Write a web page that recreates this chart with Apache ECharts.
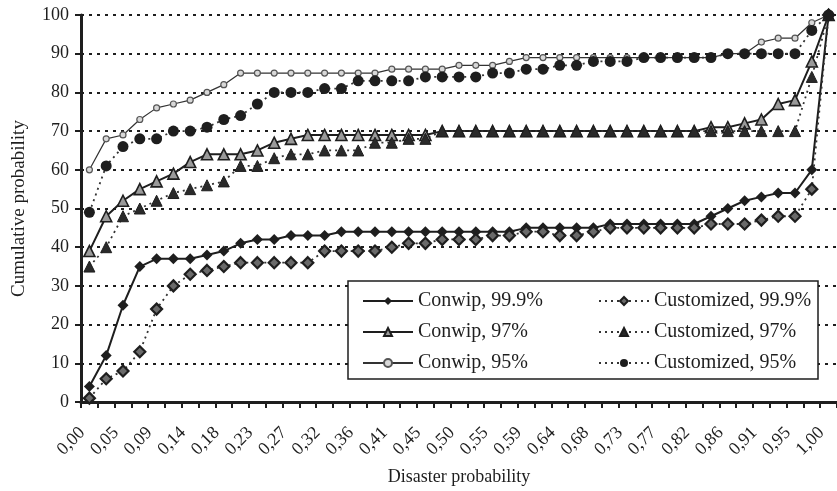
<!DOCTYPE html>
<html>
<head>
<meta charset="utf-8">
<script src="https://cdn.jsdelivr.net/npm/echarts@6/dist/echarts.min.js"></script>
<style>
  html, body { margin: 0; padding: 0; background: #fff; }
  #chart { width: 837px; height: 491px; }
</style>
</head>
<body>
<div id="chart"></div>
<script>
// Disaster probability steps (1/44), shown with a decimal comma
const categories = ['0,00','0,02','0,05','0,07','0,09','0,11','0,14','0,16','0,18','0,20',
  '0,23','0,25','0,27','0,30','0,32','0,34','0,36','0,39','0,41','0,43',
  '0,45','0,48','0,50','0,52','0,55','0,57','0,59','0,61','0,64','0,66',
  '0,68','0,70','0,73','0,75','0,77','0,80','0,82','0,84','0,86','0,89',
  '0,91','0,93','0,95','0,98','1,00'];

const yTicks = [0, 10, 20, 30, 40, 50, 60, 70, 80, 90, 100];

// Cumulative probability (%) per policy and service level
const conwip999 = [4,12,25,35,37,37,37,38,39,41,42,42,43,
  43,43,44,44,44,44,44,44,44,44,44,44,44,
  45,45,45,45,45,46,46,46,46,46,46,
  48,50,52,53,54,54,60,100];
const conwip97 = [39,48,52,55,57,59,62,64,64,64,65,67,68,
  69,69,69,69,69,69,69,69,
  70,70,70,70,70,70,70,70,70,70,70,70,70,70,70,70,
  71,71,72,73,77,78,88,100];
const conwip95 = [60,68,69,73,76,77,78,80,82,85,85,85,85,
  85,85,85,85,85,86,86,86,86,
  87,87,87,88,89,89,
  89,89,89,89,89,89,89,89,89,89,
  90,90,93,94,94,98,100];
const custom999 = [1,6,8,13,24,30,33,34,35,36,36,36,36,
  36,39,39,39,39,40,41,41,42,42,42,43,43,
  44,44,43,43,44,45,45,45,45,45,45,
  46,46,46,47,48,48,55,100];
const custom97 = [35,40,48,50,52,54,55,56,57,61,61,63,64,
  64,65,65,65,67,67,68,68,
  70,70,70,70,70,70,70,70,70,70,70,70,70,70,70,70,70,70,70,70,70,70,
  84,100];
const custom95 = [49,61,66,68,68,70,70,71,73,74,77,80,80,
  80,81,81,83,83,83,83,84,84,84,84,
  85,85,86,86,87,87,88,88,88,
  89,89,89,89,89,90,90,90,90,90,
  96,100];

const SERIF = '"Liberation Serif", "DejaVu Serif", serif';
const INK = '#1e1e1e';

function makeSeries(name, data, symbol, size, item, line) {
  return {
    name: name,
    type: 'line',
    data: data,
    symbol: symbol,
    symbolSize: size,
    showAllSymbol: true,
    itemStyle: item,
    lineStyle: line,
    emphasis: { disabled: true }
  };
}

const solid = { color: INK, width: 2, type: 'solid' };
const thin = { color: '#333', width: 1.2, type: 'solid' };
const dotted = { color: '#333', width: 1.8, type: [2, 4] };

const series = [
  makeSeries('Conwip, 99.9%', conwip999, 'diamond', 11, { color: INK }, solid),
  makeSeries('Conwip, 97%', conwip97, 'triangle', 11, { color: '#9a9a9a', borderColor: INK, borderWidth: 1.6 }, solid),
  makeSeries('Conwip, 95%', conwip95, 'circle', 6, { color: '#d8d8d8', borderColor: '#555', borderWidth: 1.2 }, thin),
  makeSeries('Customized, 99.9%', custom999, 'diamond', 11, { color: '#6a6a6a', borderColor: INK, borderWidth: 2.2 }, dotted),
  makeSeries('Customized, 97%', custom97, 'triangle', 11, { color: '#2a2a2a', borderColor: INK, borderWidth: 1 }, dotted),
  makeSeries('Customized, 95%', custom95, 'circle', 11, { color: INK }, dotted)
];

const legendBase = {
  orient: 'vertical',
  top: 291,
  itemWidth: 50,
  itemHeight: 10,
  itemGap: 11,
  padding: 0,
  z: 20,
  textStyle: { fontFamily: SERIF, fontSize: 20, color: INK },
  inactiveColor: INK
};

const chart = echarts.init(document.getElementById('chart'), null, { renderer: 'canvas' });
chart.setOption({
  animation: false,
  backgroundColor: '#ffffff',
  grid: { left: 81, top: 15, width: 759, height: 388.5, containLabel: false },
  xAxis: {
    type: 'category',
    data: categories,
    boundaryGap: true,
    name: 'Disaster probability',
    nameLocation: 'middle',
    nameGap: 66,
    nameTextStyle: { fontFamily: SERIF, fontSize: 18, color: INK },
    axisLine: { show: true, lineStyle: { color: INK, width: 3 } },
    axisTick: { show: true, interval: 0, length: 6, inside: false, lineStyle: { color: INK, width: 2 } },
    axisLabel: {
      interval: 1, rotate: 45, margin: 21, padding: [0, 10, 0, 0],
      fontFamily: SERIF, fontSize: 18, color: INK
    },
    splitLine: { show: false }
  },
  yAxis: {
    type: 'value',
    min: yTicks[0],
    max: yTicks[yTicks.length - 1],
    interval: yTicks[1] - yTicks[0],
    name: 'Cumulative probability',
    nameLocation: 'middle',
    nameGap: 52,
    nameTextStyle: { fontFamily: SERIF, fontSize: 19, color: INK },
    axisLine: { show: true, lineStyle: { color: INK, width: 3 } },
    axisTick: { show: true, length: 6, lineStyle: { color: INK, width: 2 } },
    axisLabel: { margin: 12, fontFamily: SERIF, fontSize: 18, color: INK },
    splitLine: { show: true, lineStyle: { color: INK, width: 2, type: [3, 5] } }
  },
  graphic: [{
    type: 'rect',
    z: 10,
    shape: { x: 348, y: 281, width: 470, height: 98 },
    style: { fill: '#ffffff', stroke: INK, lineWidth: 1.5 }
  }],
  legend: [
    Object.assign({}, legendBase, { left: 362, data: ['Conwip, 99.9%', 'Conwip, 97%', 'Conwip, 95%'] }),
    Object.assign({}, legendBase, { left: 598, data: ['Customized, 99.9%', 'Customized, 97%', 'Customized, 95%'] })
  ],
  series: series
});
</script>
</body>
</html>
